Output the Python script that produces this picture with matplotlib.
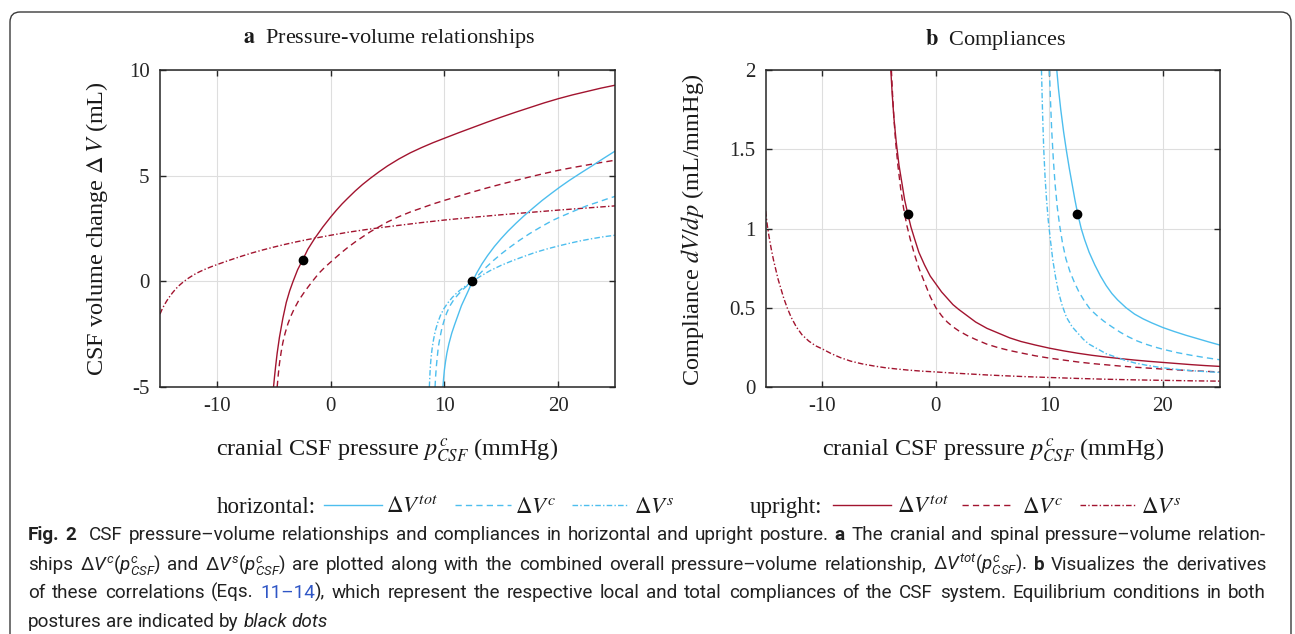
import matplotlib
matplotlib.use('Agg')
import matplotlib.pyplot as plt
from matplotlib.patches import FancyBboxPatch
from matplotlib.lines import Line2D
from matplotlib.transforms import IdentityTransform

W, H = 1295, 634
RED = '#A2142F'
BLUE = '#4DBEEE'
SERIF = 'Liberation Serif'
CAP = 'Roboto'

plt.rcParams['mathtext.fontset'] = 'stix'
plt.rcParams['mathtext.rm'] = CAP
plt.rcParams['mathtext.it'] = CAP + ':italic'
plt.rcParams['mathtext.bf'] = CAP + ':bold'

# ---- panel a: pressure-volume relationships ----
a_up_tot_p = [-5.02, -4.93, -4.83, -4.7, -4.5, -4.2, -3.9, -3.6, -3.3, -2.9, -2.47, -2.0, -1.4, -0.7,
              0.0, 0.5, 1.0, 1.5, 2.15, 2.8, 3.5, 4.25, 5.0, 6.0, 7.0, 8.0, 9.0, 10.0, 11.25, 12.5,
              13.75, 15.0, 16.25, 17.5, 18.75, 20.0, 21.25, 22.5, 23.75, 25.0]
a_up_tot_v = [-5.0, -4.5, -4.0, -3.4, -2.65, -1.75, -1.0, -0.45, 0.0, 0.55, 1.0, 1.52, 2.03, 2.56,
              3.04, 3.36, 3.66, 3.93, 4.27, 4.58, 4.88, 5.18, 5.46, 5.79, 6.08, 6.33, 6.56, 6.77, 7.03, 7.28,
              7.53, 7.77, 8.0, 8.22, 8.44, 8.64, 8.82, 8.98, 9.14, 9.28]
a_up_c_p = [-4.7, -4.6, -4.5, -4.35, -4.2, -4.0, -3.75, -3.5, -3.2, -2.8, -2.4, -2.0, -1.5, -1.0,
            -0.5, 0.0, 0.5, 1.0, 1.5, 2.15, 2.8, 3.5, 4.25, 5.0, 6.0, 7.0, 8.0, 9.0, 10.0, 11.25,
            12.5, 13.75, 15.0, 16.25, 17.5, 18.75, 20.0, 21.25, 22.5, 23.75, 25.0]
a_up_c_v = [-5.0, -4.4, -3.9, -3.35, -2.9, -2.45, -2.0, -1.65, -1.3, -0.9, -0.58, -0.28, 0.07, 0.4,
            0.67, 0.91, 1.15, 1.38, 1.6, 1.86, 2.1, 2.35, 2.58, 2.81, 3.06, 3.28, 3.47, 3.66, 3.83, 4.03,
            4.23, 4.42, 4.6, 4.77, 4.94, 5.1, 5.25, 5.38, 5.5, 5.62, 5.73]
a_up_s_p = [-15.0, -14.8, -14.6, -14.4, -14.2, -13.9, -13.6, -13.3, -13.0, -12.5, -12.0, -11.5, -11.0,
            -10.5, -10.0, -9.0, -8.0, -7.0, -6.0, -5.0, -4.0, -3.0, -2.0, -1.0, 0.0, 1.5, 3.0, 4.5,
            6.0, 8.0, 10.0, 12.5, 15.0, 17.5, 20.0, 22.5, 25.0]
a_up_s_v = [-1.55, -1.3, -1.1, -0.92, -0.76, -0.54, -0.35, -0.19, -0.05, 0.15, 0.32, 0.46, 0.58,
            0.69, 0.79, 0.98, 1.16, 1.33, 1.48, 1.62, 1.75, 1.87, 1.98, 2.08, 2.18, 2.32, 2.44, 2.55,
            2.65, 2.78, 2.9, 3.03, 3.15, 3.26, 3.37, 3.47, 3.57]
a_ho_tot_p = [9.87, 9.93, 10.0, 10.1, 10.22, 10.4, 10.65, 10.9, 11.2, 11.5, 11.8, 12.1, 12.47, 12.85,
              13.3, 13.8, 14.4, 15.0, 15.6, 16.3, 17.0, 17.8, 18.6, 19.4, 20.2, 21.0, 22.0, 23.0,
              24.0, 25.0]
a_ho_tot_v = [-5.0, -4.6, -4.2, -3.8, -3.4, -2.95, -2.45, -2.05, -1.6, -1.15, -0.8, -0.45, 0.0, 0.4,
              0.82, 1.22, 1.65, 2.03, 2.38, 2.75, 3.1, 3.47, 3.83, 4.16, 4.48, 4.78, 5.13, 5.47,
              5.82, 6.16]
a_ho_c_p = [9.18, 9.23, 9.3, 9.38, 9.47, 9.6, 9.75, 9.95, 10.2, 10.5, 10.85, 11.25, 11.7, 12.1,
            12.47, 13.0, 13.6, 14.3, 15.0, 15.8, 16.6, 17.5, 18.5, 19.5, 20.5, 21.5, 22.5, 23.5,
            24.25, 25.0]
a_ho_c_v = [-5.0, -4.5, -4.0, -3.55, -3.1, -2.7, -2.3, -1.9, -1.5, -1.15, -0.85, -0.6, -0.35, -0.16,
            0.0, 0.3, 0.63, 0.98, 1.3, 1.63, 1.94, 2.26, 2.58, 2.88, 3.12, 3.35, 3.57, 3.75,
            3.89, 4.02]
a_ho_s_p = [8.68, 8.72, 8.77, 8.84, 8.93, 9.05, 9.2, 9.4, 9.65, 9.95, 10.3, 10.7, 11.15, 11.7,
            12.47, 13.2, 14.0, 15.0, 16.0, 17.0, 18.0, 19.0, 20.0, 21.0, 22.0, 23.0, 24.0, 25.0]
a_ho_s_v = [-5.0, -4.5, -4.0, -3.55, -3.15, -2.75, -2.35, -1.98, -1.62, -1.3, -1.02, -0.76, -0.52, -0.28,
            0.0, 0.25, 0.5, 0.76, 0.98, 1.18, 1.37, 1.53, 1.67, 1.8, 1.92, 2.02, 2.11, 2.18]

# ---- panel b: compliances ----
b_up_tot_p = [-3.97, -3.85, -3.7, -3.5, -3.25, -3.0, -2.75, -2.47, -2.2, -1.9, -1.5, -1.0, -0.5, 0.0,
              0.5, 1.0, 1.5, 2.0, 2.75, 3.5, 4.5, 5.5, 6.5, 7.5, 8.75, 10.0, 11.25, 12.5, 13.75,
              15.0, 16.25, 17.5, 18.75, 20.0, 21.25, 22.5, 23.75, 25.0]
b_up_tot_c = [2.0, 1.85, 1.7, 1.55, 1.4, 1.29, 1.18, 1.09, 1.01, 0.94, 0.85, 0.77, 0.7, 0.65,
              0.6, 0.56, 0.52, 0.49, 0.45, 0.41, 0.37, 0.34, 0.31, 0.287, 0.265, 0.245, 0.228, 0.213, 0.2,
              0.189, 0.179, 0.17, 0.162, 0.155, 0.148, 0.141, 0.135, 0.13]
b_up_c_p = [-3.92, -3.82, -3.7, -3.55, -3.35, -3.1, -2.85, -2.56, -2.25, -1.9, -1.5, -1.0, -0.5, 0.0,
            0.5, 1.0, 1.5, 2.0, 2.75, 3.5, 4.5, 5.5, 6.5, 7.5, 8.75, 10.0, 11.25, 12.5, 13.75, 15.0,
            16.25, 17.5, 18.75, 20.0, 21.25, 22.5, 23.75, 25.0]
b_up_c_c = [2.0, 1.85, 1.7, 1.55, 1.4, 1.25, 1.13, 1.02, 0.93, 0.84, 0.75, 0.66, 0.57, 0.5,
            0.45, 0.41, 0.38, 0.355, 0.325, 0.3, 0.27, 0.248, 0.23, 0.215, 0.197, 0.182, 0.17, 0.158,
            0.148, 0.14, 0.132, 0.125, 0.119, 0.113, 0.108, 0.103, 0.099, 0.095]
b_up_s_p = [-15.0, -14.85, -14.7, -14.5, -14.3, -14.1, -13.9, -13.65, -13.4, -13.1, -12.75, -12.3,
            -11.8, -11.2, -10.6, -10.0, -9.2, -8.4, -7.5, -6.5, -5.5, -4.5, -3.5, -2.5, -1.25, 0.0,
            1.5, 3.0, 4.5, 6.0, 8.0, 10.0, 12.5, 15.0, 17.5, 20.0, 22.5, 25.0]
b_up_s_c = [1.11, 1.02, 0.95, 0.87, 0.8, 0.74, 0.68, 0.62, 0.56, 0.5, 0.44, 0.38,
            0.33, 0.29, 0.26, 0.24, 0.21, 0.185, 0.163, 0.146, 0.133, 0.122, 0.114, 0.107, 0.1, 0.095,
            0.088, 0.082, 0.076, 0.071, 0.065, 0.06, 0.054, 0.049, 0.045, 0.042, 0.039, 0.037]
b_ho_tot_p = [10.65, 10.8, 11.0, 11.25, 11.5, 11.75, 12.0, 12.25, 12.5, 12.8, 13.1, 13.5, 14.0, 14.5,
              15.0, 15.5, 16.0, 16.75, 17.5, 18.25, 19.0, 20.0, 21.0, 22.0, 23.0, 24.0, 25.0]
b_ho_tot_c = [2.0, 1.88, 1.75, 1.61, 1.49, 1.38, 1.28, 1.18, 1.09, 1.0, 0.93, 0.85, 0.77, 0.7,
              0.64, 0.59, 0.55, 0.5, 0.46, 0.43, 0.405, 0.375, 0.35, 0.327, 0.306, 0.285, 0.265]
b_ho_c_p = [10.0, 10.1, 10.2, 10.35, 10.5, 10.7, 10.9, 11.15, 11.45, 11.8, 12.2, 12.6, 13.1, 13.6,
            14.2, 14.8, 15.5, 16.25, 17.0, 17.75, 18.5, 19.25, 20.0, 21.25, 22.5, 23.75, 25.0]
b_ho_c_c = [2.0, 1.8, 1.62, 1.43, 1.28, 1.13, 1.02, 0.91, 0.81, 0.73, 0.66, 0.6, 0.54, 0.49,
            0.45, 0.415, 0.38, 0.345, 0.315, 0.29, 0.27, 0.253, 0.238, 0.217, 0.2, 0.185, 0.172]
b_ho_s_p = [9.3, 9.4, 9.5, 9.62, 9.75, 9.9, 10.1, 10.3, 10.55, 10.8, 11.1, 11.5, 12.0, 12.5, 13.0,
            13.5, 14.25, 15.0, 15.8, 16.6, 17.5, 18.5, 19.5, 20.5, 21.5, 22.5, 23.75, 25.0]
b_ho_s_c = [2.0, 1.72, 1.5, 1.32, 1.18, 1.05, 0.92, 0.8, 0.69, 0.6, 0.52, 0.44, 0.38, 0.34, 0.3,
            0.27, 0.24, 0.21, 0.19, 0.17, 0.152, 0.138, 0.126, 0.117, 0.109, 0.103, 0.097, 0.092]

# equilibrium points (upright, horizontal)
eq_p = [-2.47, 12.47]
eq_dv = [1.0, 0.0]
eq_c = [1.09, 1.09]

xticks = [-10, 0, 10, 20]
xticklabels = ['-10', '0', '10', '20']
a_yticks = [-5, 0, 5, 10]
a_yticklabels = ['-5', '0', '5', '10']
b_yticks = [0, 0.5, 1, 1.5, 2]
b_yticklabels = ['0', '0.5', '1', '1.5', '2']

STYLES = {'tot': '-', 'c': (0, (4.5, 3)), 's': (0, (4, 1.6, 1, 1.6))}

fig = plt.figure(figsize=(W / 100, H / 100), dpi=100)


def px_axes(left, top, right, bottom):
    return fig.add_axes([left / W, 1 - bottom / H, (right - left) / W, (bottom - top) / H])


def style_axes(ax, yticks, yticklabels, ylim):
    ax.set_xlim(-15, 25)
    ax.set_ylim(*ylim)
    ax.set_xticks(xticks)
    ax.set_xticklabels(xticklabels)
    ax.set_yticks(yticks)
    ax.set_yticklabels(yticklabels)
    ax.grid(True, color='#dedede', lw=0.8)
    ax.set_axisbelow(True)
    ax.tick_params(direction='in', length=4, width=1, top=True, right=True,
                   color='#262626', labelcolor='#262626', labelsize=15, pad=7.5)
    for lab in ax.get_xticklabels() + ax.get_yticklabels():
        lab.set_family(SERIF)
    for sp in ax.spines.values():
        sp.set_color('#262626')
        sp.set_linewidth(1.1)


ax1 = px_axes(160, 70, 615, 387)
ax2 = px_axes(765.6, 70, 1219.7, 387)

ax1.plot(a_up_s_p, a_up_s_v, color=RED, lw=1.0, ls=STYLES['s'])
ax1.plot(a_up_c_p, a_up_c_v, color=RED, lw=1.0, ls=STYLES['c'])
ax1.plot(a_up_tot_p, a_up_tot_v, color=RED, lw=1.0, ls=STYLES['tot'])
ax1.plot(a_ho_s_p, a_ho_s_v, color=BLUE, lw=1.0, ls=STYLES['s'])
ax1.plot(a_ho_c_p, a_ho_c_v, color=BLUE, lw=1.0, ls=STYLES['c'])
ax1.plot(a_ho_tot_p, a_ho_tot_v, color=BLUE, lw=1.0, ls=STYLES['tot'])
ax1.plot(eq_p, eq_dv, 'o', color='k', ms=6, zorder=5)
style_axes(ax1, a_yticks, a_yticklabels, (-5, 10))

ax2.plot(b_up_s_p, b_up_s_c, color=RED, lw=1.0, ls=STYLES['s'])
ax2.plot(b_up_c_p, b_up_c_c, color=RED, lw=1.0, ls=STYLES['c'])
ax2.plot(b_up_tot_p, b_up_tot_c, color=RED, lw=1.0, ls=STYLES['tot'])
ax2.plot(b_ho_s_p, b_ho_s_c, color=BLUE, lw=1.0, ls=STYLES['s'])
ax2.plot(b_ho_c_p, b_ho_c_c, color=BLUE, lw=1.0, ls=STYLES['c'])
ax2.plot(b_ho_tot_p, b_ho_tot_c, color=BLUE, lw=1.0, ls=STYLES['tot'])
ax2.plot(eq_p, eq_c, 'o', color='k', ms=6, zorder=5)
style_axes(ax2, b_yticks, b_yticklabels, (0, 2))


def ftext(x, y, s, **kw):
    kw.setdefault('family', SERIF)
    kw.setdefault('math_fontfamily', 'stix')
    kw.setdefault('color', '#1a1a1a')
    return fig.text(x / W, 1 - y / H, s, **kw)


ftext(389, 39, r'$\mathbf{a}$  Pressure-volume relationships', size=16, ha='center', va='center')
ftext(995, 39, r'$\mathbf{b}$  Compliances', size=16, ha='center', va='center')
ftext(97, 228.5, r'CSF volume change $\Delta\,V$ (mL)', size=17.5, rotation=90, ha='center', va='center')
ftext(693, 229.5, r'Compliance $dV/dp$ (mL/mmHg)', size=17.5, rotation=90, ha='center', va='center')
for cx in (387.5, 993):
    ftext(cx, 455, r'cranial CSF pressure $p^{\,c}_{CSF}$ (mmHg)', size=17.5, ha='center', va='baseline')

# legend row
leg_y = 505
ftext(217, 513, 'horizontal:', size=16.5, va='baseline')
ftext(750, 513, 'upright:', size=16.5, va='baseline')
leg_items = [(324, 382, 386, BLUE, 'tot'), (455, 511, 515, BLUE, 'c'), (572, 629, 634, BLUE, 's'),
             (833, 891, 897, RED, 'tot'), (962, 1014, 1022, RED, 'c'), (1080, 1136, 1141, RED, 's')]
for x0, x1, xt, col, key in leg_items:
    fig.add_artist(Line2D([x0 / W, x1 / W], [1 - leg_y / H, 1 - leg_y / H], color=col,
                          lw=1.0, ls=STYLES[key]))
    ftext(xt, 513, r'$\Delta{}V^{%s}$' % key, size=16.5, va='baseline')

# outer rounded frame
fig.add_artist(FancyBboxPatch((10, -60), 1281, H - 12 + 60,
                              boxstyle='round,pad=0,rounding_size=10',
                              transform=IdentityTransform(), fill=False,
                              ec='#3a3a3a', lw=1.0))

# caption
base = dict(family=CAP, color='#222222')
STY = {
    'n': dict(base),
    'b': dict(base, weight='bold'),
    'i': dict(base, style='italic'),
    'm': dict(base, math_fontfamily='custom'),
    'l': dict(base, color='#2f56c6'),
}
caption = [
    [('Fig. 2', 'b'), ('  CSF pressure–volume relationships and compliances in horizontal and upright posture.', 'n'),
     (' a', 'b'), (' The cranial and spinal pressure–volume relation-', 'n')],
    [('ships', 'n'), (r' $\Delta{}V^c(p^c_{CSF})$', 'm'), (' and', 'n'), (r' $\Delta{}V^s(p^c_{CSF})$', 'm'),
     (' are plotted along with the combined overall pressure–volume relationship,', 'n'),
     (r' $\Delta{}V^{tot}\left(p^c_{CSF}\right)$.', 'm'), (' b', 'b'), (' Visualizes the derivatives', 'n')],
    [('of these correlations (Eqs.', 'n'), (' 11–14', 'l'),
     ('), which represent the respective local and total compliances of the CSF system. '
      'Equilibrium conditions in both', 'n')],
    [('postures are indicated by', 'n'), (' black dots', 'i')],
]
cap_base = [540, 570, 598, 627]
cap_x0, cap_x1 = 28, 1266
last_line_w = 299   # width of the short last line in the reference
rend = fig.canvas.get_renderer()


def measure(parts, size):
    toks, pend = [], 0
    for s, st in parts:
        for j, w in enumerate(s.split(' ')):
            if j > 0:
                pend += 1
            if w:
                toks.append((w, st, pend))
                pend = 0
    widths = []
    for w, st, _ in toks:
        t = fig.text(0, 0, w, fontsize=size, **STY[st])
        widths.append(t.get_window_extent(rend).width)
        t.remove()
    return toks, widths


def space_width(size):
    a = fig.text(0, 0, 'n n', fontsize=size, **STY['n'])
    b = fig.text(0, 0, 'nn', fontsize=size, **STY['n'])
    w = a.get_window_extent(rend).width - b.get_window_extent(rend).width
    a.remove()
    b.remove()
    return w


size = 12.0
toks, widths = measure(caption[-1], size)
natural = sum(widths) + sum(n for _, _, n in toks[1:]) * space_width(size)
size = size * last_line_w / natural
sp_nat = space_width(size)

for li, parts in enumerate(caption):
    toks, widths = measure(parts, size)
    gaps = sum(n for _, _, n in toks[1:])
    sp = sp_nat if li == len(caption) - 1 else (cap_x1 - cap_x0 - sum(widths)) / gaps
    x = cap_x0
    for i, ((w, st, n), wd) in enumerate(zip(toks, widths)):
        if i > 0:
            x += n * sp
        fig.text(x / W, 1 - cap_base[li] / H, w, fontsize=size, va='baseline', **STY[st])
        x += wd

fig.savefig('out.png', dpi=100, facecolor='white')
